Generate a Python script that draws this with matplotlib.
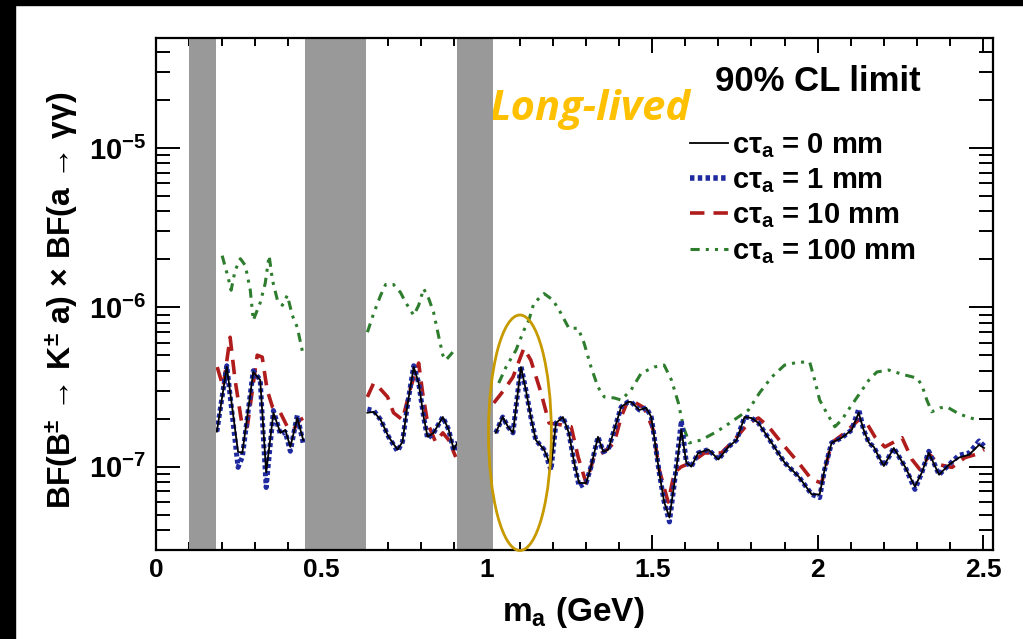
import numpy as np
import matplotlib.pyplot as plt
import matplotlib.transforms as mtransforms
from matplotlib.patches import Ellipse, Rectangle
from matplotlib.lines import Line2D
from matplotlib.ticker import FixedLocator, LogLocator, MultipleLocator, NullFormatter, FuncFormatter

plt.rcParams['font.family'] = ['Liberation Sans', 'DejaVu Sans']
plt.rcParams['font.weight'] = 'bold'
plt.rcParams['mathtext.fontset'] = 'custom'
plt.rcParams['mathtext.rm'] = 'Liberation Sans:bold'
plt.rcParams['mathtext.bf'] = 'Liberation Sans:bold'
plt.rcParams['mathtext.it'] = 'Liberation Sans:bold'

# vetoed mass windows (GeV)
veto_lo = [0.10, 0.45, 0.91]
veto_hi = [0.18, 0.635, 1.02]

nan = np.nan

# c tau = 0 mm (and 1 mm, same mass points), limits in units of 1e-7
mass_0mm = [0.184, 0.214, 0.248, 0.261, 0.294, 0.315, 0.333, 0.355, 0.376, 0.391, 0.406, 0.427, 0.445, nan,
            0.639, 0.658, 0.679, 0.703, 0.730, 0.745, 0.761, 0.779, 0.794, 0.809, 0.821, 0.839, 0.867, 0.885,
            0.900, 0.912, nan,
            1.027, 1.048, 1.064, 1.079, 1.103, 1.118, 1.133, 1.148, 1.173, 1.194, 1.209, 1.230, 1.248, 1.264,
            1.279, 1.300, 1.315, 1.336, 1.352, 1.367, 1.385, 1.406, 1.427, 1.436, 1.461, 1.482, 1.497, 1.506,
            1.521, 1.536, 1.552, 1.567, 1.588, 1.603, 1.618, 1.639, 1.670, 1.700, 1.730, 1.755, 1.779, 1.800,
            1.821, 1.861, 1.900, 1.942, 1.982, 2.006, 2.021, 2.042, 2.073, 2.103, 2.124, 2.139, 2.155, 2.170,
            2.185, 2.200, 2.230, 2.264, 2.294, 2.315, 2.336, 2.367, 2.397, 2.427, 2.458, 2.488, 2.503]
lim_0mm = [1.66, 4.24, 1.24, 1.22, 3.93, 3.50, 0.92, 2.18, 1.63, 1.70, 1.33, 2.02, 1.47, nan,
           2.18, 2.21, 1.97, 1.54, 1.28, 1.43, 2.51, 4.22, 3.35, 2.05, 1.54, 1.63, 2.05, 1.70,
           1.28, 1.43, nan,
           1.63, 2.05, 1.78, 1.63, 4.22, 3.03, 2.05, 1.47, 1.28, 1.00, 1.88, 2.05, 1.63, 1.06,
           0.79, 0.79, 1.00, 1.54, 1.24, 1.28, 1.70, 2.37, 2.55, 2.55, 2.27, 2.34, 2.05, 1.54,
           0.92, 0.60, 0.48, 0.79, 1.70, 1.06, 1.00, 1.22, 1.28, 1.11, 1.33, 1.47, 2.05, 2.02,
           1.88, 1.41, 1.06, 0.87, 0.67, 0.67, 0.96, 1.41, 1.52, 1.70, 2.18, 1.70, 1.41, 1.33,
           1.15, 1.01, 1.31, 1.00, 0.75, 0.92, 1.22, 0.89, 1.03, 1.14, 1.19, 1.37, 1.31]
lim_1mm = [1.66, 4.30, 0.99, 1.15, 4.00, 3.50, 0.74, 2.25, 1.60, 1.65, 1.25, 2.10, 1.40, nan,
           2.30, 2.25, 1.97, 1.54, 1.25, 1.43, 2.51, 4.30, 3.35, 2.05, 1.50, 1.63, 2.05, 1.70,
           1.25, 1.43, nan,
           1.63, 2.05, 1.78, 1.63, 4.30, 3.03, 2.05, 1.47, 1.28, 0.95, 1.88, 2.05, 1.63, 1.06,
           0.75, 0.79, 1.00, 1.54, 1.24, 1.28, 1.70, 2.37, 2.55, 2.55, 2.27, 2.34, 2.05, 1.54,
           0.92, 0.60, 0.45, 0.79, 1.95, 1.06, 1.00, 1.22, 1.28, 1.11, 1.33, 1.47, 2.05, 2.02,
           1.88, 1.41, 1.06, 0.87, 0.67, 0.64, 0.96, 1.41, 1.52, 1.70, 2.30, 1.70, 1.41, 1.33,
           1.15, 1.01, 1.31, 1.00, 0.72, 0.92, 1.25, 0.89, 1.03, 1.18, 1.22, 1.45, 1.35]

# c tau = 10 mm
mass_10mm = [0.185, 0.203, 0.224, 0.239, 0.261, 0.276, 0.306, 0.321, 0.336, 0.352, 0.376, 0.397, 0.415,
             0.436, 0.452, nan,
             0.639, 0.658, 0.673, 0.700, 0.718, 0.745, 0.770, 0.794, 0.806, 0.821, 0.845, 0.867, 0.885,
             0.906, nan,
             1.021, 1.052, 1.079, 1.112, 1.133, 1.164, 1.188, 1.224, 1.255, 1.276, 1.300, 1.324, 1.355,
             1.385, 1.406, 1.427, 1.445, 1.476, 1.503, 1.521, 1.548, 1.567, 1.588, 1.618, 1.658, 1.709,
             1.748, 1.791, 1.821, 1.852, 1.891, 1.942, 1.982, 2.012, 2.042, 2.082, 2.124, 2.148, 2.173,
             2.203, 2.255, 2.285, 2.309, 2.339, 2.367, 2.406, 2.445, 2.476, 2.503]
lim_10mm = [4.22, 3.16, 6.49, 3.50, 1.78, 1.78, 5.01, 4.87, 3.03, 2.37, 2.18, 1.78, 1.70,
            1.97, 2.05, nan,
            2.74, 3.35, 3.16, 2.74, 2.18, 1.97, 3.16, 4.47, 2.90, 1.88, 1.43, 1.63, 1.47,
            1.15, nan,
            2.51, 3.03, 3.65, 5.54, 4.66, 2.90, 1.88, 1.83, 1.78, 1.15, 0.79, 1.15, 1.24,
            1.41, 2.05, 2.62, 2.55, 2.34, 1.70, 0.96, 0.60, 0.92, 1.00, 1.06, 1.22, 1.22,
            1.47, 1.88, 2.02, 1.78, 1.41, 1.06, 0.83, 0.79, 1.41, 1.63, 1.97, 1.88, 1.54,
            1.33, 1.52, 1.11, 0.96, 1.19, 1.03, 0.99, 1.14, 1.19, 1.28]

# c tau = 100 mm
mass_100mm = [0.200, 0.218, 0.227, 0.239, 0.255, 0.270, 0.285, 0.294, 0.315, 0.330, 0.342, 0.352, 0.367,
              0.382, 0.397, 0.412, 0.427, 0.445, nan,
              0.639, 0.658, 0.679, 0.694, 0.718, 0.739, 0.755, 0.779, 0.794, 0.809, 0.824, 0.839, 0.855,
              0.867, 0.876, 0.897, nan,
              1.036, 1.058, 1.088, 1.112, 1.127, 1.142, 1.173, 1.200, 1.224, 1.248, 1.276, 1.294, 1.315,
              1.336, 1.355, 1.385, 1.406, 1.436, 1.467, 1.506, 1.536, 1.558, 1.579, 1.594, 1.612, 1.648,
              1.688, 1.718, 1.748, 1.791, 1.824, 1.861, 1.900, 1.942, 1.976, 1.991, 2.006, 2.027, 2.052,
              2.073, 2.097, 2.124, 2.155, 2.179, 2.215, 2.233, 2.264, 2.300, 2.315, 2.330, 2.345, 2.370,
              2.391, 2.421, 2.452, 2.482]
lim_100mm = [21.1, 15.4, 12.8, 17.0, 20.2, 18.3, 12.8, 8.29, 10.7, 14.1, 21.1, 14.8, 11.1,
             10.3, 11.9, 8.91, 7.50, 5.01, nan,
             6.98, 9.17, 11.9, 13.9, 13.9, 12.4, 10.7, 8.91, 10.3, 13.1, 11.4, 9.31, 6.49,
             5.01, 4.66, 5.23, nan,
             3.35, 4.22, 5.38, 7.18, 8.29, 10.6, 12.2, 11.1, 9.17, 7.39, 7.39, 5.96, 4.22,
             3.16, 2.74, 2.70, 2.62, 3.03, 3.87, 4.22, 4.34, 3.50, 2.51, 1.78, 1.41, 1.47,
             1.63, 1.78, 1.97, 2.27, 2.90, 3.65, 4.34, 4.53, 4.53, 3.50, 2.62, 2.18, 1.78,
             1.97, 2.34, 2.82, 3.50, 3.93, 4.04, 3.93, 3.76, 3.60, 3.25, 2.62, 2.21, 2.34,
             2.37, 2.18, 2.05, 1.97]

labels = [r'c$\mathbf{\tau_a}$ = 0 mm', r'c$\mathbf{\tau_a}$ = 1 mm',
          r'c$\mathbf{\tau_a}$ = 10 mm', r'c$\mathbf{\tau_a}$ = 100 mm']

fig = plt.figure(figsize=(10.23, 6.39), dpi=100)
ax = fig.add_axes([156 / 1023, 1 - 550 / 639, 837 / 1023, 512 / 639])

blue_ls = (0, (0.8, 0.6))
red_ls = (0, (4, 2.5))
green_ls = (0, (3, 2, 1, 2, 1, 2))

ax.plot(mass_100mm, np.array(lim_100mm) * 1e-7, color='#2e7d2e', lw=2.2, ls=green_ls, zorder=3)
ax.plot(mass_10mm, np.array(lim_10mm) * 1e-7, color='#b01c1c', lw=2.6, ls=red_ls, zorder=3)
ax.plot(mass_0mm, np.array(lim_1mm) * 1e-7, color='#1f2aa0', lw=3.6, ls=blue_ls, zorder=4)
ax.plot(mass_0mm, np.array(lim_0mm) * 1e-7, color='black', lw=1.3, zorder=5)

for lo, hi in zip(veto_lo, veto_hi):
    ax.axvspan(lo, hi, color='#999999', lw=0, zorder=6)

ax.set_yscale('log')
ax.set_xlim(0, 2.53)
ax.set_ylim(3.0e-8, 4.9e-5)

ax.xaxis.set_major_locator(MultipleLocator(0.5))
ax.xaxis.set_minor_locator(MultipleLocator(0.1))
ax.xaxis.set_major_formatter(FuncFormatter(lambda v, p: '%g' % v))
ax.yaxis.set_major_locator(FixedLocator([1e-7, 1e-6, 1e-5]))
ax.yaxis.set_minor_locator(LogLocator(base=10, subs=np.arange(2, 10)))
ax.yaxis.set_minor_formatter(NullFormatter())
ax.yaxis.set_major_formatter(FuncFormatter(lambda v, p: r'$\mathbf{10^{%d}}$' % round(np.log10(v))))

ax.tick_params(axis='both', which='both', direction='in', top=True, right=True, width=1.4)
ax.tick_params(axis='x', which='major', length=11, pad=6, labelsize=19)
ax.tick_params(axis='x', which='minor', length=6)
ax.tick_params(axis='y', which='major', length=17, pad=7, labelsize=21)
ax.tick_params(axis='y', which='minor', length=10)
for s in ax.spines.values():
    s.set_linewidth(1.6)
    s.set_zorder(7)

fig.text(573 / 1023, 1 - 613 / 639, r'm$\mathbf{_a}$ (GeV)', ha='center', va='center', fontsize=24)
fig.text(62 / 1023, 1 - 300 / 639, 'BF(B$^{\\pm}$ \u2192 K$^{\\pm}$ a) \u00d7 BF(a \u2192 \u03b3\u03b3)',
         rotation=90, ha='center', va='center', fontsize=23)

ax.text(0.791, 0.916, '90% CL limit', transform=ax.transAxes, ha='center', va='center', fontsize=25)
ax.text(0.399, 0.86, 'Long-lived', transform=ax.transAxes, ha='left', va='center', fontsize=30,
        color='#FFC000', style='italic', fontweight='bold', family=['Open Sans', 'DejaVu Sans'])

handles = [Line2D([], [], color='black', lw=1.3),
           Line2D([], [], color='#1f2aa0', lw=4, ls=blue_ls),
           Line2D([], [], color='#b01c1c', lw=2.6, ls=red_ls),
           Line2D([], [], color='#2e7d2e', lw=2.2, ls=green_ls)]
ax.legend(handles, labels, loc='upper left', bbox_to_anchor=(0.638, 0.818), frameon=False,
          fontsize=21, handlelength=1.3, handletextpad=0.15, labelspacing=0.22, borderaxespad=0,
          borderpad=0)

# highlighted region around the 1.1 GeV peak
trans = mtransforms.blended_transform_factory(ax.transData, ax.transAxes)
ax.add_patch(Ellipse((1.1, 0.229), 0.19, 0.46, transform=trans, fill=False, edgecolor='#C79A00',
                     lw=2, clip_on=False, zorder=8))

# dark frame strips of the original slide
fig.patches.append(Rectangle((0, 0), 15 / 1023, 1, transform=fig.transFigure, color='black', zorder=0))
fig.patches.append(Rectangle((0, 1 - 5 / 639), 1, 5 / 639, transform=fig.transFigure, color='black', zorder=0))

fig.savefig('out.png', dpi=100)
